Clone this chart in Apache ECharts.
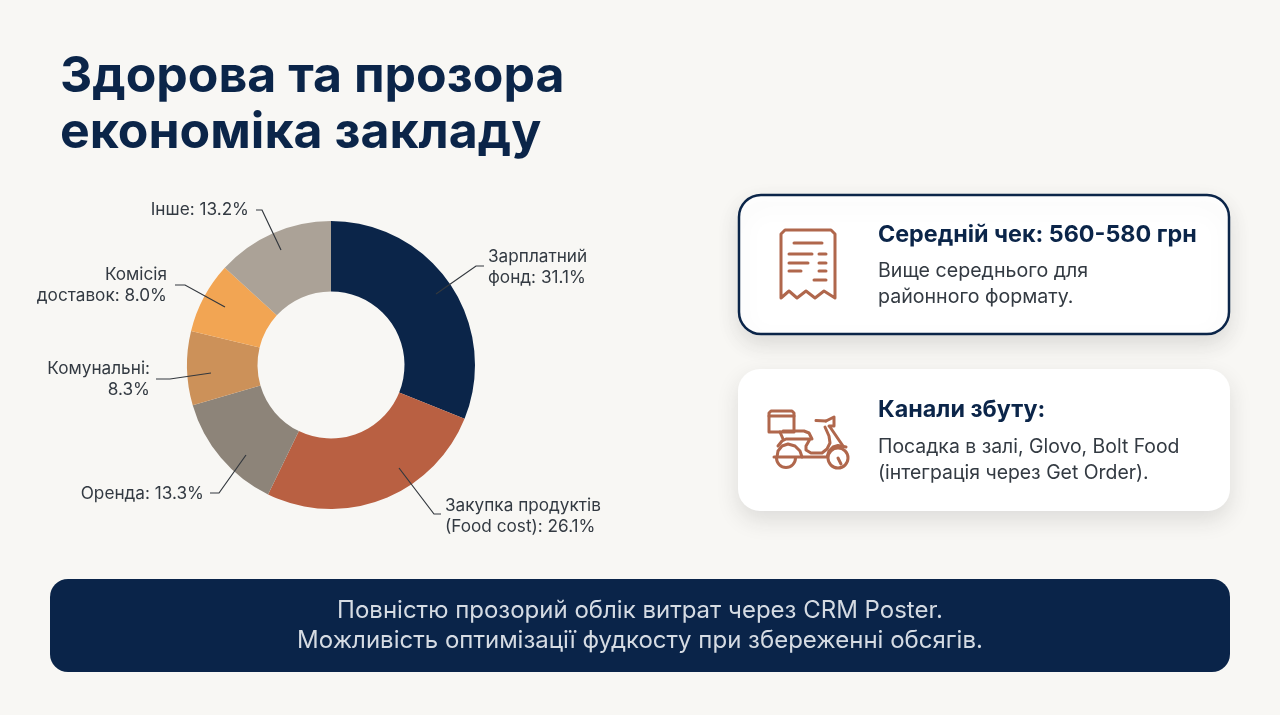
<!DOCTYPE html>
<html><head><meta charset="utf-8">
<style>html,body{margin:0;padding:0;background:#F8F7F4}#c{width:1280px;height:715px}</style>
<script src="https://cdn.jsdelivr.net/npm/echarts@6/dist/echarts.min.js"></script>
</head><body><div id="c"></div>
<script>
const categories = ['Зарплатний фонд','Закупка продуктів (Food cost)','Оренда','Комунальні','Комісія доставок','Інше'];
const values = [31.1,26.1,13.3,8.3,8.0,13.2];
const labelTexts = ['Зарплатний\nфонд: 31.1%','Закупка продуктів\n(Food cost): 26.1%','Оренда: 13.3%','Комунальні:\n8.3%','Комісія\nдоставок: 8.0%','Інше: 13.2%'];
const colors = ['#0B2549','#B96042','#8D8479','#CC9159','#F2A553','#ABA297'];
const FONT = 'Inter, "Noto Sans", sans-serif';
const NAVY = '#0B2549', ICON = '#B0674C', TXT = '#333A42';
const labelPlace = [
 {x:488,y:267,align:'left',line:[[436,294],[476,266],[484,266]]},
 {x:445,y:516,align:'left',line:[[399,468],[434,514],[441,514]]},
 {x:204,y:494,align:'right',line:[[246,455],[219,493],[210,493]]},
 {x:150,y:379,align:'right',line:[[211,373],[170,379],[156,379]]},
 {x:167,y:285,align:'right',line:[[225,307],[185,285],[175,285]]},
 {x:249,y:210,align:'right',line:[[281,250],[262,210],[256,210]]}
];
function txt(x,y,s,size,weight,color,align){return {type:'text',x,y,silent:true,z:5,style:{text:s,fontFamily:FONT,fontSize:size,fontWeight:weight,fill:color,align:align||'left',verticalAlign:'middle'}};}
function card(x,y,w,h,border){return {type:'rect',x,y,z:1,silent:true,shape:{width:w,height:h,r:22},style:{fill:'#FFFFFF',stroke:border?NAVY:null,lineWidth:border?2.5:0,shadowBlur:22,shadowOffsetY:9,shadowColor:'rgba(40,40,40,0.13)'}};}
function pl(points,lw){return {type:'polyline',z:5,silent:true,shape:{points},style:{fill:null,stroke:ICON,lineWidth:lw||3,lineCap:'round',lineJoin:'round'}};}
function circ(cx,cy,r){return {type:'circle',z:5,silent:true,shape:{cx,cy,r},style:{fill:null,stroke:ICON,lineWidth:3}};}
const receiptIcon=[
 [[781,298],[781,234],[785,230],[831,230],[835,234],[835,298],[824,291],[815,298],[806,291],[797,298],[789,291],[781,298]],
 [[794,243],[822,243]],[[789,254],[812,254]],[[819,254],[826,254]],[[789,263],[808,263]],[[819,263],[826,263]],[[789,271],[801,271]],[[819,271],[826,271]],[[814,280],[826,280]]
].map(p=>pl(p));
const scooterIcon=[
 [[771,411],[792,411],[794,413],[794,432],[769,432],[769,413],[771,411]],
 [[769,416],[794,416]],
 [[780,432],[783,439]],
 [[783,431],[804,431],[809,433],[812,439]],
 [[778,446],[782,441],[786,439],[810,439],[806,446],[806,450],[811,453],[822,453],[827,449],[830,443],[829,436],[825,427]],
 [[777,457],[778,451],[782,446],[788,444],[795,446],[800,451],[802,457]],
 [[774,457],[827,457],[829,451],[833,447],[838,445.5],[846,447]],
 [[830,427],[843,446]],
 [[816,420.5],[826,421]],
 [[826,421],[834,417],[834,426],[829,426]],
 [[838,458],[841,464]]
].map(p=>pl(p)).concat([circ(838,458,10),
 {type:'arc',z:5,silent:true,shape:{cx:786,cy:458,r:9.5,startAngle:0,endAngle:Math.PI},style:{fill:null,stroke:ICON,lineWidth:3}}]);
const chart = echarts.init(document.getElementById('c'),null,{renderer:'canvas'});
const pieData = categories.map((n,i)=>({name:n,value:values[i]}));
const pieBase = {type:'pie',center:[331,365],radius:[73.5,144],startAngle:90,clockwise:true,silent:true,data:pieData};
chart.setOption({
 backgroundColor:'#F8F7F4',
 animation:false,
 graphic:[
  txt(60,77,'Здорова та прозора',50,700,NAVY),
  txt(60,133,'економіка закладу',50,700,NAVY),
  card(739,195,490,139,true),
  card(738,369,492,142,false),
  txt(878,235,'Середній чек: 560-580 грн',23.3,700,NAVY),
  txt(878,271,'Вище середнього для',19.6,400,TXT),
  txt(878,297,'районного формату.',19.6,400,TXT),
  txt(878,410,'Канали збуту:',23.3,700,NAVY),
  txt(878,447,'Посадка в залі, Glovo, Bolt Food',19.4,400,TXT),
  txt(878,473,'(інтеграція через Get Order).',19.4,400,TXT),
  ...receiptIcon, ...scooterIcon,
  {type:'rect',x:50,y:579,z:1,silent:true,shape:{width:1180,height:93,r:18},style:{fill:'#0A2449'}},
  txt(640,611,'Повністю прозорий облік витрат через CRM Poster.',24,400,'#D5DBE3','center'),
  txt(640,641,'Можливість оптимізації фудкосту при збереженні обсягів.',24,400,'#D5DBE3','center')
 ],
 series:[
  {...pieBase,z:2,color:colors,label:{show:false},labelLine:{show:false}},
  {...pieBase,z:3,itemStyle:{color:'transparent'},
   label:{show:true,position:'outside',formatter:p=>labelTexts[p.dataIndex],fontFamily:FONT,fontSize:17.2,lineHeight:21,color:TXT},
   labelLine:{show:true,length:10,length2:10,smooth:false,lineStyle:{color:'#33383E',width:1.2}},
   labelLayout:p=>{const l=labelPlace[p.dataIndex];return {x:l.x,y:l.y,align:l.align,verticalAlign:'middle',labelLinePoints:l.line};}
  }
 ]
});
</script></body></html>
